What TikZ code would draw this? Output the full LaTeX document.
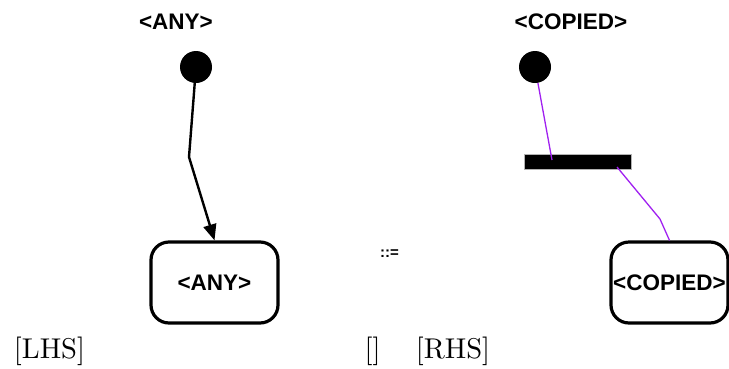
\documentclass[tikz,border=0pt]{standalone}
\usepackage{fontspec}
\setsansfont{Liberation Sans}
\newfontfamily\capfont[Extension=.otf]{lmroman10-regular}
\usetikzlibrary{arrows.meta}
\definecolor{linkpurple}{RGB}{160,32,240}
\begin{document}
\begin{tikzpicture}[x=1pt,y=-1pt,
  lbl/.style={font=\sffamily\bfseries\fontsize{22.5}{26}\selectfont, inner sep=0pt},
  blob/.style={circle, fill=black, minimum size=32, inner sep=0pt},
  statebox/.style={draw=black, line width=3.2, rounded corners=18, fill=white,
    font=\sffamily\bfseries\fontsize{22.5}{26}\selectfont, inner sep=0pt},
  syncbar/.style={draw=gray!60, fill=black, line width=0.8, inner sep=0pt},
  blackflow/.style={draw=black, line width=2.4, -{Triangle[length=16,width=13]}},
  purpleflow/.style={draw=linkpurple, line width=1.3},
  caption/.style={font=\capfont\fontsize{28.6}{34}\selectfont, inner sep=0pt, anchor=base}]
\useasboundingbox (0,0) rectangle (729,368);

% left-hand side
\node[lbl] (tL) at (176,22) {<ANY>};
\node[blob] (sL) at (196,67) {};
\node[statebox, minimum width=127, minimum height=81] (bL) at (214.5,282.5) {<ANY>};
\coordinate (kL) at (189,157);
\draw[blackflow] (sL) -- (kL) -- (bL.north);

% rule symbol
\node[font=\sffamily\bfseries\fontsize{15}{17}\selectfont, inner sep=0pt] (def) at (389.5,254) {::=};

% right-hand side
\node[lbl] (tR) at (571,22) {<COPIED>};
\node[blob] (sR) at (535,67) {};
\node[syncbar, minimum width=107, minimum height=15] (bar) at (577.5,161.5) {};
\node[statebox, minimum width=117, minimum height=81] (bR) at (669.5,282.5) {\hspace*{-6pt}<COPIED>\hspace*{-6pt}};
\coordinate (inR) at (552,160);
\coordinate (outR) at (617,167);
\coordinate (kR) at (660,219);
\draw[purpleflow] (sR) -- (inR);
\draw[purpleflow] (outR) -- (kR) -- (bR.north);

% captions
\node[caption] (capL) at (49.5,358) {[LHS]};
\node[caption] (capM) at (372.5,358) {[]};
\node[caption] (capR) at (453,358) {[RHS]};
\end{tikzpicture}
\end{document}
